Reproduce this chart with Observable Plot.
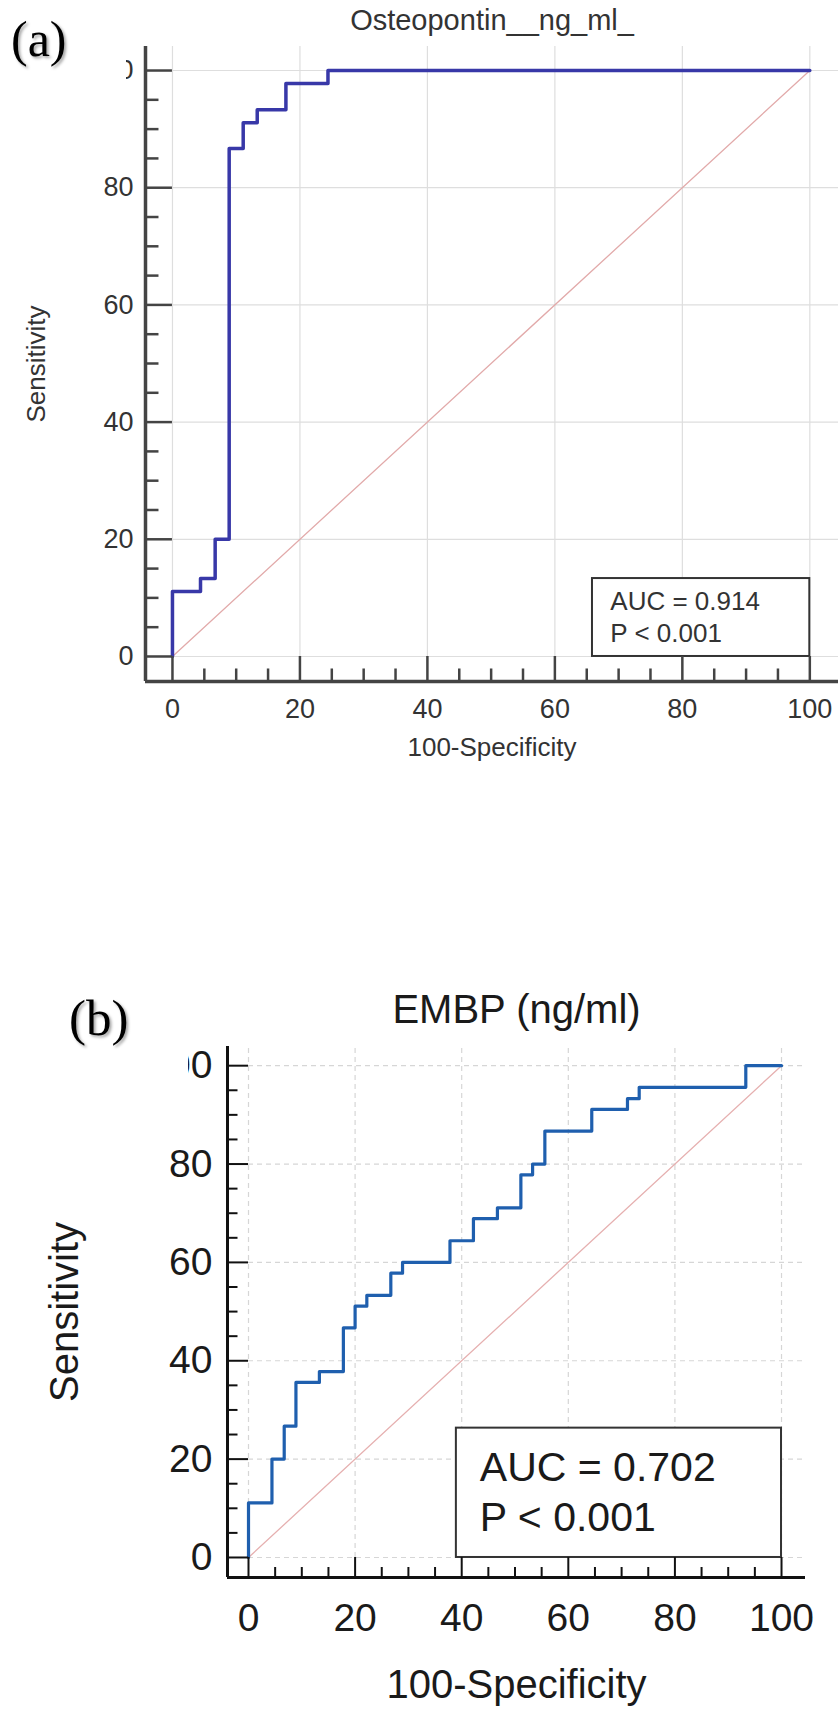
<!DOCTYPE html>
<html><head><meta charset="utf-8">
<script src="https://cdn.jsdelivr.net/npm/d3@7"></script>
<script src="https://cdn.jsdelivr.net/npm/@observablehq/plot@0.6"></script>
<style>
html,body{margin:0;padding:0;background:#fff;}
#wrap{position:relative;width:838px;height:1709px;overflow:hidden;font-family:"Liberation Sans",Arial,sans-serif;}
#wrap svg{position:absolute;left:0;}
.plabel{position:absolute;background:#fff;font-family:"Liberation Serif","Times New Roman",serif;color:#000;line-height:1;box-sizing:border-box;text-shadow:2px 2px 3px rgba(0,0,0,0.35);}
</style></head>
<body><div id="wrap"></div>
<script>
// ---------- data ----------
const xLabel = "100-Specificity";
const yLabel = "Sensitivity";
const majorTicks = [0, 20, 40, 60, 80, 100];
const minorTicks = [5, 10, 15, 25, 30, 35, 45, 50, 55, 65, 70, 75, 85, 90, 95];
const diagonal = [0, 100];

// Panel (a)
const labelA = "(a)";
const titleA = "Osteopontin__ng_ml_";
const rocA_fpr  = [0, 0,    4.4,  6.7, 8.9,  11.1, 13.3, 17.8, 24.4, 100];
const rocA_sens = [0, 11.1, 13.3, 20,  86.7, 91.1, 93.3, 97.8, 100,  100];
const statsA = ["AUC = 0.914", "P < 0.001"];

// Panel (b)
const labelB = "(b)";
const titleB = "EMBP (ng/ml)";
const rocB_fpr  = [0, 0,    4.4, 6.7,  8.9,  13.3, 17.8, 20.0, 22.2, 26.7, 28.9, 37.8, 42.2, 46.7, 51.1, 53.3, 55.6, 64.4, 71.1, 73.3, 93.3, 100];
const rocB_sens = [0, 11.1, 20,  26.7, 35.6, 37.8, 46.7, 51.1, 53.3, 57.8, 60,   64.4, 68.9, 71.1, 77.8, 80,   86.7, 91.1, 93.3, 95.6, 100,  100];
const statsB = ["AUC = 0.702", "P < 0.001"];

// ---------- drawing ----------
function panel(o) {
  const roc = o.fpr.map((x, i) => ({x, y: o.sens[i]}));
  const diag = diagonal.map(d => ({x: d, y: d}));
  const [x0, x1] = o.xDomain, [y0, y1] = o.yDomain;
  const axisStyle = {stroke: o.axis, strokeWidth: o.tw};
  return Plot.plot({
    width: 838, height: o.height,
    marginLeft: o.ml, marginRight: o.mr, marginTop: o.mt, marginBottom: o.mb,
    x: {domain: o.xDomain}, y: {domain: o.yDomain},
    style: {fontFamily: "'Liberation Sans', Arial, sans-serif", background: "transparent", overflow: "visible"},
    marks: [
      Plot.ruleY(majorTicks, {y: d => d, x1: 0, x2: x1, stroke: o.grid, strokeWidth: 1.2, strokeDasharray: o.dash}),
      Plot.ruleX(majorTicks, {x: d => d, y1: 0, y2: y1, stroke: o.grid, strokeWidth: 1.2, strokeDasharray: o.dash}),
      Plot.line(diag, {x: "x", y: "y", stroke: o.diag, strokeWidth: 1.3}),
      Plot.line(roc, {x: "x", y: "y", curve: "step-after", stroke: o.color, strokeWidth: o.lw}),
      Plot.rect([o.box], {x1: "x1", x2: "x2", y1: "y1", y2: "y2", fill: "white", stroke: "#333", strokeWidth: 2}),
      Plot.text(o.stats, {x: o.textX, y: (d, i) => o.textY[i], text: d => d, textAnchor: "start", lineAnchor: "bottom", fontSize: o.statSize, fill: o.textColor}),
      Plot.ruleY(majorTicks, {y: d => d, x1: x0, x2: 0, ...axisStyle}),
      Plot.ruleY(minorTicks, {y: d => d, x1: x0, x2: x0 / 2, ...axisStyle}),
      Plot.ruleX(majorTicks, {x: d => d, y1: y0, y2: 0, ...axisStyle}),
      Plot.ruleX(minorTicks, {x: d => d, y1: y0, y2: y0 / 2, ...axisStyle}),
      Plot.ruleX([x0], {stroke: o.axis, strokeWidth: o.aw}),
      Plot.ruleY([y0], {stroke: o.axis, strokeWidth: o.aw}),
      Plot.axisX(majorTicks, {tickSize: 0, tickPadding: o.xpad, fontSize: o.tickFont, label: null, color: o.textColor}),
      Plot.axisY(majorTicks, {tickSize: 0, tickPadding: o.ypad, fontSize: o.tickFont, label: null, color: o.textColor}),
      Plot.text([o.title], {text: d => d, frameAnchor: "top", textAnchor: "middle", lineAnchor: "bottom", dy: o.titleDy, fontSize: o.titleFont, fill: o.textColor}),
      Plot.text([xLabel], {text: d => d, frameAnchor: "bottom", textAnchor: "middle", lineAnchor: "bottom", dy: o.xlabDy, fontSize: o.labFont, fill: o.textColor}),
      Plot.text([yLabel], {text: d => d, frameAnchor: "left", textAnchor: "middle", rotate: -90, lineAnchor: "bottom", dx: o.ylabDx, fontSize: o.labFont, fill: o.textColor})
    ]
  });
}

const wrap = document.getElementById("wrap");

const svgA = panel({
  fpr: rocA_fpr, sens: rocA_sens, stats: statsA, title: titleA,
  height: 780, ml: 145, mr: 0, mt: 46, mb: 99,
  xDomain: [-4.23, 104.5], yDomain: [-4.27, 104.1],
  grid: "#dedede", dash: null, diag: "#e2aaaa", color: "#3838a8", lw: 3.5,
  axis: "#444", tw: 2.5, aw: 3.5, textColor: "#333",
  box: {x1: 65.9, x2: 100, y1: 0, y2: 13.3}, textX: 68.7, textY: [7.85, 2.44], statSize: 26,
  xpad: 17, ypad: 12, tickFont: 27, titleDy: -17, titleFont: 29, xlabDy: 74, ylabDx: -100.5, labFont: 26
});
svgA.style.top = "0px";
wrap.appendChild(svgA);

const svgB = panel({
  fpr: rocB_fpr, sens: rocB_sens, stats: statsB, title: titleB,
  height: 749, ml: 227, mr: 33, mt: 86, mb: 132,
  xDomain: [-3.94, 104.5], yDomain: [-4.07, 103.9],
  grid: "#d6d6d6", dash: "5,4", diag: "#e6b0b0", color: "#1f5fae", lw: 3.2,
  axis: "#111", tw: 2, aw: 3, textColor: "#1a1a1a",
  box: {x1: 39, x2: 100, y1: 0, y2: 26.3}, textX: 43.4, textY: [15.6, 5.3], statSize: 41,
  xpad: 26, ypad: 15, tickFont: 39, titleDy: -24, titleFont: 40, xlabDy: 120, ylabDx: -150, labFont: 40
});
svgB.style.top = "960px";
wrap.appendChild(svgB);

// panel letters (with white backing, as in the original figure)
const la = document.createElement("div");
la.className = "plabel";
la.textContent = labelA;
Object.assign(la.style, {left: "0px", top: "0px", width: "126px", height: "86px", paddingLeft: "11px", paddingTop: "14px", fontSize: "50px"});
wrap.appendChild(la);

const lb = document.createElement("div");
lb.className = "plabel";
lb.textContent = labelB;
Object.assign(lb.style, {left: "60px", top: "990px", width: "128px", height: "100px", paddingLeft: "9px", paddingTop: "3px", fontSize: "51px"});
wrap.appendChild(lb);
</script>
</body></html>
